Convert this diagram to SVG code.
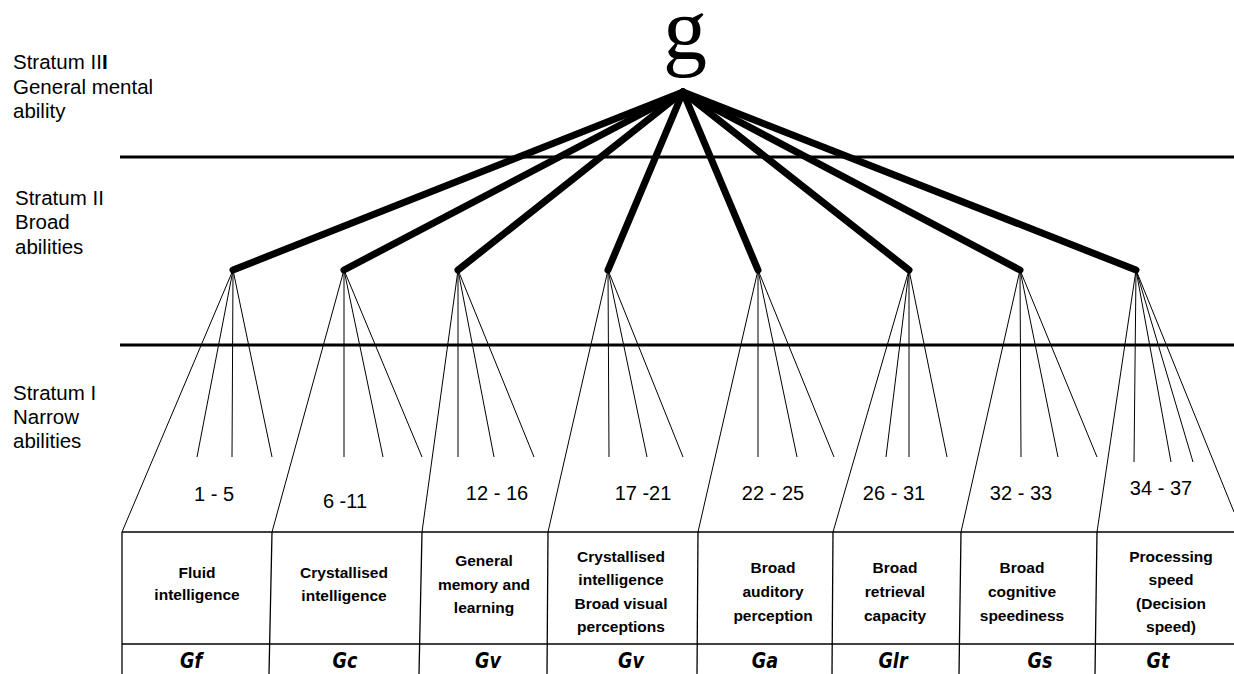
<svg xmlns="http://www.w3.org/2000/svg" width="1234" height="674" viewBox="0 0 1234 674">
<style>
.lbl{font-family:"Liberation Sans",Arial,sans-serif;font-size:20.5px;fill:#000}
.num{font-family:"Liberation Sans",Arial,sans-serif;font-size:20px;fill:#000;text-anchor:middle}
.box{font-family:"Liberation Sans",Arial,sans-serif;font-size:15.5px;font-weight:bold;fill:#000;text-anchor:middle}
.code{font-family:"DejaVu Sans",sans-serif;font-size:22px;font-weight:bold;font-style:italic;fill:#000;text-anchor:middle}
.thick{stroke:#000;stroke-width:7;stroke-linecap:round;fill:none}
.thin{stroke:#000;stroke-width:1;fill:none}
.strat{stroke:#000;stroke-width:3;fill:none}
.grid{stroke:#000;stroke-width:1.3;fill:none}
</style>
<rect width="1234" height="674" fill="#fff"/>
<g id="labels">
<text class="lbl" x="13" y="69">Stratum I<tspan>I</tspan><tspan font-weight="bold">I</tspan></text>
<text class="lbl" x="13" y="94">General mental</text>
<text class="lbl" x="13" y="118">ability</text>
<text class="lbl" x="15" y="205">Stratum II</text>
<text class="lbl" x="15" y="229">Broad</text>
<text class="lbl" x="15" y="254">abilities</text>
<text class="lbl" x="13" y="400">Stratum I</text>
<text class="lbl" x="13" y="424">Narrow</text>
<text class="lbl" x="13" y="448">abilities</text>
</g>
<g id="strata">
<line class="strat" x1="120" y1="157" x2="1234" y2="157"/>
<line class="strat" x1="120" y1="345" x2="1234" y2="345"/>
</g>
<g id="g-node">
<text x="685" y="59" font-family="'Liberation Serif','Times New Roman',serif" font-size="88" text-anchor="middle" fill="#000">g</text>
</g>
<g id="connectors">
<g id="broad-links">
<line class="thick" x1="683" y1="92" x2="233" y2="270"/>
<line class="thick" x1="683" y1="92" x2="344" y2="270"/>
<line class="thick" x1="683" y1="92" x2="458" y2="270"/>
<line class="thick" x1="683" y1="92" x2="608" y2="270"/>
<line class="thick" x1="683" y1="92" x2="758" y2="270"/>
<line class="thick" x1="683" y1="92" x2="909" y2="270"/>
<line class="thick" x1="683" y1="92" x2="1020" y2="270"/>
<line class="thick" x1="683" y1="92" x2="1136" y2="270"/>
</g>
<g id="narrow-links">
<path class="thin" d="M233 270L122 532M233 270L197 457M233 270L232 457M233 270L272 457"/>
<path class="thin" d="M344 270L272 532M344 270L344 457M344 270L383 457M344 270L422 457"/>
<path class="thin" d="M458 270L422 532M458 270L458 457M458 270L494 457M458 270L534 457"/>
<path class="thin" d="M608 270L548 532M608 270L609 457M608 270L647 457M608 270L683 457"/>
<path class="thin" d="M758 270L698 532M758 270L758 457M758 270L797 457M758 270L834 457"/>
<path class="thin" d="M909 270L833 532M909 270L886 457M909 270L909 457M909 270L947 457"/>
<path class="thin" d="M1020 270L961 532M1020 270L1021 457M1020 270L1058 457M1020 270L1097 457"/>
<path class="thin" d="M1136 270L1097 532M1136 270L1134 462M1136 270L1171 462M1136 270L1193 462M1136 270L1234 512"/>
</g>
</g>
<g id="ranges">
<text class="num" x="214" y="501">1 - 5</text>
<text class="num" x="345" y="508">6 -11</text>
<text class="num" x="497" y="500">12 - 16</text>
<text class="num" x="643" y="500">17 -21</text>
<text class="num" x="773" y="500">22 - 25</text>
<text class="num" x="894" y="500">26 - 31</text>
<text class="num" x="1021" y="500">32 - 33</text>
<text class="num" x="1161" y="495">34 - 37</text>
</g>
<g id="table">
<line class="grid" x1="122" y1="532" x2="1234" y2="532"/>
<line class="grid" x1="122" y1="644" x2="1234" y2="644"/>
<line class="grid" x1="122" y1="532" x2="122" y2="674"/>
<line class="grid" x1="272" y1="532" x2="269" y2="674"/>
<line class="grid" x1="422" y1="532" x2="419" y2="674"/>
<line class="grid" x1="548" y1="532" x2="547" y2="674"/>
<line class="grid" x1="698" y1="532" x2="697" y2="674"/>
<line class="grid" x1="833" y1="532" x2="832" y2="674"/>
<line class="grid" x1="961" y1="532" x2="959" y2="674"/>
<line class="grid" x1="1097" y1="532" x2="1095" y2="674"/>
</g>
<g id="box-gf">
<text class="box" x="197" y="578">Fluid</text>
<text class="box" x="197" y="600">intelligence</text>
<text class="code" transform="translate(191 668) scale(0.8 1)">Gf</text>
</g>
<g id="box-gc">
<text class="box" x="344" y="578">Crystallised</text>
<text class="box" x="344" y="601">intelligence</text>
<text class="code" transform="translate(345 668) scale(0.8 1)">Gc</text>
</g>
<g id="box-gm">
<text class="box" x="484" y="566">General</text>
<text class="box" x="484" y="590">memory and</text>
<text class="box" x="484" y="613">learning</text>
<text class="code" transform="translate(488 668) scale(0.8 1)">Gv</text>
</g>
<g id="box-gv">
<text class="box" x="621" y="562">Crystallised</text>
<text class="box" x="621" y="585">intelligence</text>
<text class="box" x="621" y="609">Broad visual</text>
<text class="box" x="621" y="632">perceptions</text>
<text class="code" transform="translate(631 668) scale(0.8 1)">Gv</text>
</g>
<g id="box-ga">
<text class="box" x="773" y="573">Broad</text>
<text class="box" x="773" y="597">auditory</text>
<text class="box" x="773" y="621">perception</text>
<text class="code" transform="translate(765 668) scale(0.8 1)">Ga</text>
</g>
<g id="box-glr">
<text class="box" x="895" y="573">Broad</text>
<text class="box" x="895" y="597">retrieval</text>
<text class="box" x="895" y="621">capacity</text>
<text class="code" transform="translate(893 668) scale(0.8 1)">Glr</text>
</g>
<g id="box-gs">
<text class="box" x="1022" y="573">Broad</text>
<text class="box" x="1022" y="597">cognitive</text>
<text class="box" x="1022" y="621">speediness</text>
<text class="code" transform="translate(1040 668) scale(0.8 1)">Gs</text>
</g>
<g id="box-gt">
<text class="box" x="1171" y="562">Processing</text>
<text class="box" x="1171" y="585">speed</text>
<text class="box" x="1171" y="609">(Decision</text>
<text class="box" x="1171" y="632">speed)</text>
<text class="code" transform="translate(1158 668) scale(0.8 1)">Gt</text>
</g>
</svg>
